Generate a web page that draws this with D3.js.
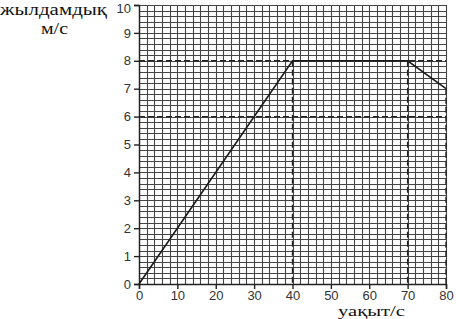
<!DOCTYPE html>
<html>
<head>
<meta charset="utf-8">
<script src="https://cdn.jsdelivr.net/npm/d3@7/dist/d3.min.js"></script>
<style>
  html, body { margin: 0; padding: 0; background: #fff; }
  svg { display: block; }
</style>
</head>
<body>
<svg id="chart" width="456" height="319"></svg>
<script>
// Data
const times = [0, 40, 70, 80];
const speeds = [0, 8, 8, 7];
const xTicks = [0, 10, 20, 30, 40, 50, 60, 70, 80];
const yTicks = [0, 1, 2, 3, 4, 5, 6, 7, 8, 9, 10];
const dashedH = [8, 6];          // horizontal guide values (m/s)
const dashedV = [[40, 8], [70, 8], [80, 7]]; // vertical guides: time, top speed
const yTitle = ["жылдамдық", "м/с"];
const xTitle = "уақыт/с";

const svg = d3.select("#chart");
const x = d3.scaleLinear().domain([0, 80]).range([139, 446]);
const y = d3.scaleLinear().domain([0, 10]).range([284, 5]);

// Grid (every 2 s, every 0.2 m/s)
const gx = d3.range(0, 80.001, 2);
const gy = d3.range(0, 10.001, 0.2);
const grid = svg.append("g").attr("stroke", "#444").attr("stroke-width", 1.1);
grid.selectAll("line.v").data(gx).join("line")
  .attr("x1", d => Math.round(x(d)) + 0.5).attr("x2", d => Math.round(x(d)) + 0.5)
  .attr("y1", y(10)).attr("y2", y(0));
grid.selectAll("line.h").data(gy).join("line")
  .attr("x1", x(0)).attr("x2", x(80))
  .attr("y1", d => Math.round(y(d)) + 0.5).attr("y2", d => Math.round(y(d)) + 0.5);

// Dashed guides
const dash = svg.append("g").attr("stroke", "#222").attr("stroke-width", 1.4)
  .attr("stroke-dasharray", "6,3").attr("fill", "none");
dash.selectAll("line.h").data(dashedH).join("line")
  .attr("x1", x(0)).attr("x2", x(80))
  .attr("y1", d => y(d)).attr("y2", d => y(d));
dash.selectAll("line.v").data(dashedV).join("line")
  .attr("x1", d => x(d[0])).attr("x2", d => x(d[0]))
  .attr("y1", d => y(d[1])).attr("y2", y(0));

// Axes
const tickFont = "'Liberation Sans', Arial, sans-serif";
const xAxis = svg.append("g").attr("transform", `translate(0,${y(0)})`)
  .call(d3.axisBottom(x).tickValues(xTicks).tickSize(5).tickPadding(2).tickFormat(d3.format("d")));
const yAxis = svg.append("g").attr("transform", `translate(${x(0)},0)`)
  .call(d3.axisLeft(y).tickValues(yTicks).tickSize(5).tickPadding(3).tickFormat(d3.format("d")));
[xAxis, yAxis].forEach(a => {
  a.select(".domain").attr("stroke", "#222").attr("stroke-width", 1.4);
  a.selectAll(".tick line").attr("stroke", "#222").attr("stroke-width", 1.4);
  a.selectAll(".tick text").attr("font-family", tickFont).attr("font-size", 13).attr("fill", "#333");
});
yAxis.selectAll(".tick text").filter(d => d === 10).attr("dy", "0.55em");

// Data line
svg.append("path")
  .datum(times.map((t, i) => [t, speeds[i]]))
  .attr("fill", "none").attr("stroke", "#1a1a1a").attr("stroke-width", 1.6)
  .attr("d", d3.line().x(d => x(d[0])).y(d => y(d[1])));

// Titles
const serif = "'Liberation Serif', 'Times New Roman', serif";
svg.append("text").attr("x", 0).attr("y", 15).text(yTitle[0])
  .attr("font-family", serif).attr("font-size", 17).attr("fill", "#111")
  .attr("textLength", 107).attr("lengthAdjust", "spacingAndGlyphs");
svg.append("text").attr("x", 41).attr("y", 34).text(yTitle[1])
  .attr("font-family", serif).attr("font-size", 17).attr("fill", "#111")
  .attr("textLength", 27).attr("lengthAdjust", "spacingAndGlyphs");
svg.append("text").attr("x", 338).attr("y", 316).text(xTitle)
  .attr("font-family", serif).attr("font-size", 15).attr("fill", "#111")
  .attr("textLength", 67).attr("lengthAdjust", "spacingAndGlyphs");
</script>
</body>
</html>
